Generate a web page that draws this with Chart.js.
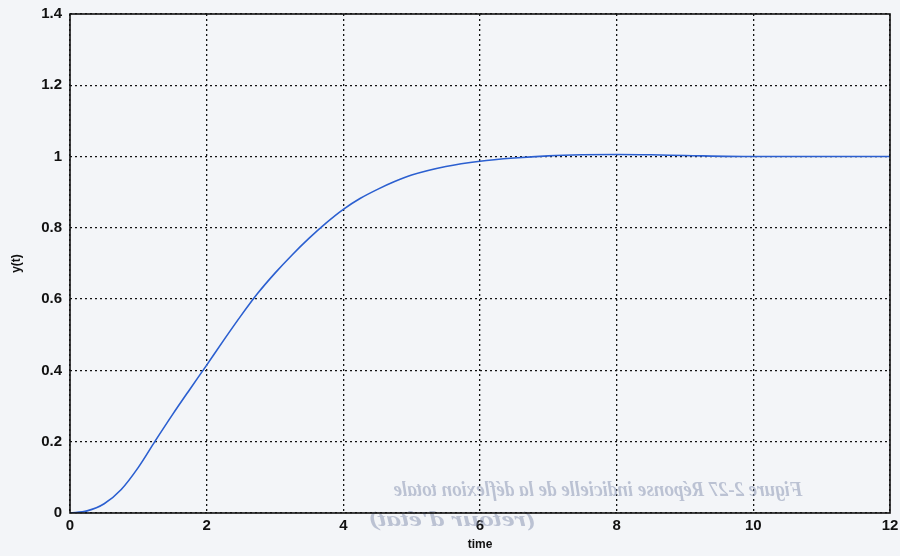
<!DOCTYPE html>
<html>
<head>
<meta charset="utf-8">
<script src="https://cdn.jsdelivr.net/npm/chart.js@4/dist/chart.umd.min.js"></script>
<style>
  html, body { margin: 0; padding: 0; background: #f3f5f8; }
  #wrap { width: 900px; height: 556px; position: relative; }
</style>
</head>
<body>
<div id="wrap"><canvas id="canvas-step"></canvas></div>
<script>
// step response
const times = [0, 0.25, 0.5, 0.75, 1, 1.25, 1.5, 1.75, 2, 2.25, 2.5, 2.75, 3, 3.25, 3.5, 3.75, 4, 4.25, 4.5, 4.75, 5, 5.5, 6, 6.5, 7, 7.5, 8, 8.5, 9, 10, 11, 12];
const response = [0, 0.006, 0.026, 0.066, 0.128, 0.203, 0.276, 0.346, 0.415, 0.485, 0.553, 0.617, 0.673, 0.724, 0.771, 0.814, 0.852, 0.883, 0.908, 0.93, 0.948, 0.972, 0.987, 0.996, 1.002, 1.005, 1.006, 1.005, 1.003, 1.0, 1.0, 1.0];
const xTicks = [0, 2, 4, 6, 8, 10, 12];
const yTicks = [0, 0.2, 0.4, 0.6, 0.8, 1, 1.2, 1.4];
const captionLines = ['Figure 2-27 Réponse indicielle de la déflexion totale', "(retour d'état)"];

const points = times.map((t, i) => ({ x: t, y: response[i] }));

// faint mirrored caption showing through the scanned page
function mirroredText(ctx, text, cx, cy, sx) {
  ctx.save();
  ctx.fillStyle = 'rgba(140,152,180,0.55)';
  ctx.font = 'italic bold 20px "Liberation Serif", serif';
  ctx.textBaseline = 'middle';
  ctx.textAlign = 'center';
  ctx.translate(cx, cy);
  ctx.scale(-sx, 1);
  ctx.fillText(text, 0, 0);
  ctx.restore();
}

const bleedThrough = {
  id: 'bleedThrough',
  beforeDatasetsDraw(chart) {
    mirroredText(chart.ctx, captionLines[0], 598, 491, 0.95);
    mirroredText(chart.ctx, captionLines[1], 452, 521, 1.45);
  },
  afterDraw(chart) {
    const a = chart.chartArea;
    const ctx = chart.ctx;
    ctx.save();
    ctx.strokeStyle = '#111';
    ctx.lineWidth = 1.6;
    ctx.strokeRect(a.left, a.top, a.right - a.left, a.bottom - a.top);
    ctx.restore();
  }
};

const step = document.getElementById('canvas-step').getContext('2d');
new Chart(step, {
  type: 'line',
  data: {
    datasets: [
      {
        label: 'y(t)',
        data: points,
        backgroundColor: 'transparent',
        borderColor: '#2b5fd0',
        borderWidth: 1.6,
        pointRadius: 0,
        cubicInterpolationMode: 'monotone',
      },
    ],
  },
  options: {
    responsive: true,
    maintainAspectRatio: false,
    animation: false,
    layout: { padding: { top: 14, right: 10, left: 0, bottom: 0 } },
    plugins: {
      legend: { display: false },
      tooltip: { enabled: false },
    },
    scales: {
      x: {
        type: 'linear',
        min: 0,
        max: 12,
        afterBuildTicks: (axis) => { axis.ticks = xTicks.map(v => ({ value: v })); },
        afterFit: (axis) => {
          axis.height = 43;
          axis.paddingLeft = 0;
          axis.paddingRight = 0;
        },
        grid: { color: '#111', lineWidth: 1.3, drawTicks: false },
        border: { display: false, dash: [2, 3] },
        ticks: {
          color: '#111',
          padding: 4,
          font: { family: '"Liberation Sans", Arial, sans-serif', size: 15, weight: 'bold' },
          maxRotation: 0,
        },
        title: {
          display: true,
          text: 'time',
          color: '#111',
          padding: { top: 0, bottom: 4 },
          font: { family: '"Liberation Sans", Arial, sans-serif', size: 12, weight: 'bold' },
        },
      },
      y: {
        min: 0,
        max: 1.4,
        afterBuildTicks: (axis) => { axis.ticks = yTicks.map(v => ({ value: v })); },
        afterFit: (axis) => {
          axis.width = 70;
          axis.paddingTop = 0;
          axis.paddingBottom = 0;
        },
        grid: { color: '#111', lineWidth: 1.3, drawTicks: false },
        border: { display: false, dash: [2, 3] },
        ticks: {
          color: '#111',
          padding: 8,
          font: { family: '"Liberation Sans", Arial, sans-serif', size: 15, weight: 'bold' },
          callback: (v) => String(Math.round(v * 10) / 10),
        },
        title: {
          display: true,
          text: 'y(t)',
          color: '#111',
          padding: { top: 9, bottom: 4 },
          font: { family: '"Liberation Sans", Arial, sans-serif', size: 12, weight: 'bold' },
        },
      },
    },
  },
  plugins: [bleedThrough],
});
</script>
</body>
</html>
